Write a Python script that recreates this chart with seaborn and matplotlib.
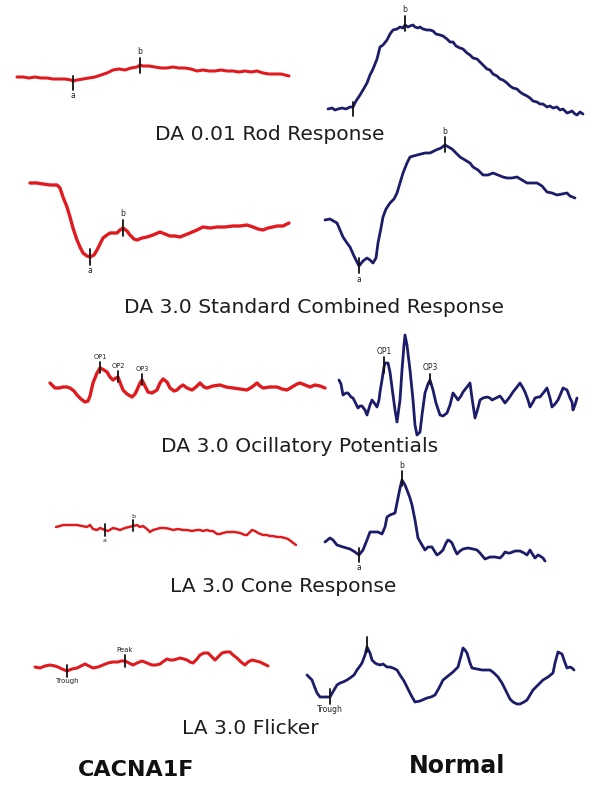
import numpy as np
import pandas as pd
import matplotlib
matplotlib.use("Agg")
import matplotlib.pyplot as plt
import seaborn as sns

# ERG traces: time (arbitrary, ~1 unit per px) and amplitude (arbitrary, up = positive)
# CACNA1F patient (red) and normal control (blue)

rod_cacna_t = [0, 6, 12, 18, 24, 30, 36, 42, 48, 54, 56, 60, 66, 72, 78, 84, 90, 96, 102, 108,
               114, 120, 123, 126, 132, 138, 144, 150, 156, 162, 168, 174, 180, 186, 192, 198, 204, 210, 216, 222,
               228, 234, 240, 246, 252, 258, 264, 268, 272]
rod_cacna_amp = [0, 0, -1, 0, -1, -1, -2, -2, -2, -3, -4, -3, -2, -1, 0, 2, 4, 7, 8, 7,
                 9, 10, 12, 11, 11, 10, 9, 9, 10, 9, 9, 8, 6, 7, 6, 6, 7, 6, 6, 5,
                 6, 5, 6, 4, 3, 3, 3, 2, 1]

rod_normal_t = [0, 4, 7, 10, 14, 18, 22, 25, 28, 32, 35, 39, 42, 45, 49, 52, 55, 59, 62, 65,
                69, 72, 75, 77, 80, 82, 85, 87, 90, 92, 95, 99, 102, 105, 108, 112, 115, 119, 122, 125,
                128, 132, 135, 139, 142, 145, 149, 152, 155, 159, 162, 165, 169, 172, 175, 179, 182, 185, 189, 192,
                195, 199, 202, 205, 209, 212, 215, 219, 222, 225, 229, 232, 235, 239, 242, 244, 247, 249, 252, 255]
rod_normal_amp = [0, 1, -1, 0, 1, 0, 2, 2, 8, 14, 19, 26, 34, 40, 50, 62, 64, 69, 75, 79,
                  80, 82, 81, 84, 82, 83, 84, 82, 81, 82, 80, 79, 79, 78, 75, 74, 73, 70, 67, 67,
                  63, 61, 60, 56, 54, 51, 50, 47, 44, 40, 39, 35, 33, 30, 29, 26, 23, 21, 20, 17,
                  15, 13, 11, 8, 7, 5, 5, 2, 3, 1, 2, -1, 0, -4, -3, -2, -5, -6, -3, -5]

comb_cacna_t = [0, 7, 13, 20, 27, 30, 33, 37, 40, 43, 47, 50, 53, 57, 60, 64, 67, 70, 73, 77,
                80, 84, 87, 90, 93, 97, 100, 104, 107, 112, 117, 123, 130, 135, 140, 145, 150, 155, 160, 167,
                173, 180, 187, 195, 203, 210, 217, 223, 228, 233, 238, 243, 247, 253, 259]
comb_cacna_amp = [0, 0, -1, -2, -2, -5, -14, -24, -34, -45, -57, -64, -70, -73, -74, -72, -67, -61, -55, -52,
                  -50, -50, -50, -47, -45, -48, -52, -56, -57, -55, -54, -52, -49, -51, -53, -53, -54, -52, -50, -47,
                  -44, -45, -44, -44, -43, -43, -42, -44, -46, -47, -45, -44, -43, -43, -40]

comb_normal_t = [0, 5, 12, 18, 22, 25, 29, 34, 38, 42, 45, 48, 51, 53, 56, 58, 61, 65, 69, 72,
                 75, 78, 82, 85, 92, 100, 105, 111, 116, 120, 127, 131, 135, 140, 145, 148, 153, 158, 163, 168,
                 173, 178, 182, 187, 192, 197, 202, 207, 212, 217, 222, 227, 232, 237, 242, 245, 250]
comb_normal_amp = [0, 1, -3, -17, -23, -27, -36, -46, -41, -38, -40, -43, -38, -23, -8, 3, 11, 17, 21, 27,
                   37, 47, 57, 63, 65, 67, 67, 70, 72, 75, 71, 67, 63, 60, 57, 53, 50, 45, 45, 47,
                   45, 43, 42, 42, 43, 40, 37, 37, 37, 34, 28, 27, 25, 26, 27, 24, 22]

ops_cacna_t = [0, 3, 5, 9, 13, 17, 20, 24, 27, 31, 35, 38, 40, 43, 47, 50, 54, 57, 60, 63,
               66, 68, 71, 73, 77, 82, 85, 87, 90, 92, 95, 98, 102, 107, 110, 113, 117, 120, 124, 127,
               130, 133, 137, 142, 146, 150, 154, 157, 163, 170, 176, 183, 190, 197, 202, 207, 210, 213, 220, 227,
               232, 237, 242, 247, 250, 255, 260, 265, 270, 275]
ops_cacna_amp = [0, -3, -5, -5, -4, -4, -5, -8, -12, -16, -19, -18, -13, 0, 10, 15, 13, 11, 6, 3,
                 5, 6, -2, -7, -11, -14, -11, -7, 0, 3, -3, -9, -10, -7, 0, 4, 1, -5, -8, -7,
                 -4, -2, -5, -7, -4, 0, -4, -5, -3, -2, -4, -5, -6, -7, -4, 0, -3, -5, -4, -4,
                 -6, -7, -4, -1, 0, -2, -4, -2, -3, -5]

ops_normal_t = [0, 2, 4, 7, 9, 12, 14, 17, 19, 21, 23, 26, 28, 31, 33, 36, 38, 40, 41, 43,
                45, 46, 49, 51, 54, 56, 58, 61, 63, 65, 66, 68, 71, 74, 76, 78, 81, 83, 86, 89,
                91, 94, 97, 101, 104, 108, 111, 114, 117, 119, 122, 124, 128, 131, 133, 136, 139, 141, 144, 148,
                151, 153, 157, 161, 164, 166, 170, 174, 178, 181, 184, 186, 189, 191, 194, 196, 199, 201, 205, 208,
                211, 213, 216, 219, 222, 224, 228, 231, 233, 234, 236, 238]
ops_normal_amp = [0, -4, -15, -13, -13, -17, -18, -24, -28, -26, -26, -30, -35, -25, -20, -24, -27, -20, -12, 0,
                  13, 17, 17, 8, -15, -30, -42, -20, 10, 35, 45, 35, 10, -20, -45, -55, -52, -35, -13, -4,
                  0, -10, -23, -35, -36, -33, -25, -13, -17, -20, -16, -12, -7, -3, -18, -38, -28, -20, -18, -17,
                  -18, -20, -18, -16, -20, -23, -18, -12, -7, -3, -8, -12, -20, -27, -22, -18, -17, -17, -12, -8,
                  -18, -27, -24, -20, -13, -8, -10, -18, -22, -30, -25, -18]

cone_cacna_t = [0, 4, 7, 14, 21, 26, 31, 34, 37, 41, 44, 49, 52, 57, 61, 64, 69, 73, 77, 81,
                84, 87, 91, 94, 97, 101, 104, 109, 114, 117, 122, 127, 131, 136, 141, 144, 147, 151, 154, 157,
                161, 164, 167, 171, 174, 179, 184, 189, 191, 194, 196, 199, 202, 207, 211, 214, 217, 221, 225, 229,
                232, 236, 240]
cone_cacna_amp = [0, 1, 2, 2, 2, 1, 0, 2, -2, -3, -1, -3, -4, -1, -2, -3, -1, 0, 1, 2,
                  0, 1, -2, -5, -3, -2, -1, -1, -2, -3, -2, -3, -3, -4, -3, -3, -4, -3, -4, -4,
                  -7, -7, -6, -5, -5, -5, -6, -8, -8, -5, -3, -4, -6, -8, -8, -9, -9, -10, -10, -11,
                  -12, -15, -18]

cone_normal_t = [0, 5, 8, 12, 18, 25, 30, 34, 38, 42, 45, 50, 53, 57, 60, 62, 65, 70, 73, 75,
                 77, 80, 82, 85, 87, 90, 93, 97, 100, 103, 107, 110, 112, 115, 118, 121, 123, 125, 127, 130,
                 132, 135, 138, 143, 148, 152, 155, 160, 165, 170, 175, 178, 180, 183, 185, 190, 195, 199, 202, 205,
                 208, 210, 213, 215, 218, 220]
cone_normal_amp = [0, 4, 2, -3, -5, -7, -10, -13, -8, 2, 10, 10, 10, 8, 15, 25, 27, 29, 44, 54,
                   62, 57, 52, 44, 37, 22, 4, -3, -8, -5, -5, -10, -13, -11, -8, -1, 2, 1, -1, -8,
                   -12, -9, -7, -6, -7, -8, -11, -17, -15, -15, -16, -13, -10, -11, -11, -9, -9, -11, -13, -8,
                   -13, -16, -13, -14, -16, -19]

flick_cacna_t = [0, 5, 10, 15, 20, 23, 27, 32, 37, 42, 46, 50, 54, 58, 63, 68, 73, 78, 83, 86,
                 90, 94, 98, 102, 107, 112, 117, 121, 125, 129, 132, 135, 138, 142, 145, 149, 152, 155, 158, 162,
                 165, 169, 173, 176, 180, 183, 187, 191, 195, 198, 202, 206, 210, 213, 217, 221, 225, 229, 233]
flick_cacna_amp = [0, -1, 1, 2, 1, 0, -2, -4, -2, -1, 1, 3, 1, -1, 0, 2, 4, 5, 5, 6,
                   6, 4, 2, 4, 6, 4, 2, 2, 3, 6, 8, 7, 7, 8, 9, 8, 7, 5, 4, 8,
                   12, 14, 14, 11, 7, 10, 14, 15, 15, 12, 9, 5, 2, 5, 7, 6, 5, 3, 1]

flick_normal_t = [0, 5, 8, 10, 13, 17, 21, 23, 27, 30, 33, 36, 40, 43, 47, 50, 53, 55, 58, 60,
                  62, 63, 65, 68, 70, 73, 76, 80, 83, 86, 90, 93, 97, 100, 104, 108, 113, 120, 124, 128,
                  132, 136, 141, 146, 151, 154, 156, 158, 160, 163, 165, 170, 175, 179, 183, 187, 191, 195, 200, 203,
                  206, 210, 213, 217, 220, 223, 226, 231, 236, 241, 246, 248, 251, 253, 255, 257, 260, 263, 265, 267]
flick_normal_amp = [0, -5, -13, -18, -22, -22, -22, -22, -15, -10, -8, -7, -5, -3, 0, 5, 9, 12, 20, 28,
                    24, 22, 15, 12, 11, 10, 11, 8, 8, 7, 5, 0, -6, -12, -20, -27, -26, -23, -22, -20,
                    -13, -5, -1, 3, 8, 19, 27, 25, 22, 12, 7, 6, 5, 5, 5, 2, -2, -8, -18, -24,
                    -27, -29, -29, -27, -25, -20, -15, -10, -5, -2, 2, 12, 23, 22, 21, 15, 7, 8, 7, 5]

protocols = ["DA 0.01 Rod Response", "DA 3.0 Standard Combined Response",
             "DA 3.0 Ocillatory Potentials", "LA 3.0 Cone Response", "LA 3.0 Flicker"]
groups = ["CACNA1F", "Normal"]

RED = "#e01b1f"
NAVY = "#1c1c6b"

W, H = 601, 786
fig = plt.figure(figsize=(W / 100, H / 100), dpi=100)
sns.set_style("white")
plt.rcParams["font.family"] = ["DejaVu Sans"]


def trace(t, amp, origin, color, lw):
    # full-figure axes, 1 data unit = 1 px, zero placed at the trace's start point
    x0, y0 = origin
    ax = fig.add_axes([0, 0, 1, 1])
    ax.patch.set_alpha(0)
    df = pd.DataFrame({"t": t, "amp": amp})
    sns.lineplot(data=df, x="t", y="amp", ax=ax, color=color, linewidth=lw,
                 estimator=None, sort=False)
    ax.set_xlim(-x0, W - x0)
    ax.set_ylim(y0 - H, y0)
    ax.set_axis_off()
    return ax, t, amp


def mark(tr, at, text=None, side="up", fs=5.5, up=7, down=7, gap=6):
    ax, t, amp = tr
    y = np.interp(at, t, amp)
    ax.plot([at, at], [y - down, y + up], color="#111111", lw=1.3)
    if text:
        ty = y + up + gap if side == "up" else y - down - gap
        ax.text(at, ty, text, ha="center", va="center", fontsize=fs, color="#222222")


# row 1 - rod
r = trace(rod_cacna_t, rod_cacna_amp, (17, 77), RED, 2.2)
mark(r, 56, "a", "down", fs=5.5, up=5, down=9)
mark(r, 123, "b", "up", fs=5.5, up=7, down=8)
r = trace(rod_normal_t, rod_normal_amp, (328, 109), NAVY, 2.0)
mark(r, 25, None, up=5, down=9)
mark(r, 77, "b", "up", fs=5.5, up=9, down=6)

# row 2 - standard combined
r = trace(comb_cacna_t, comb_cacna_amp, (30, 183), RED, 2.4)
mark(r, 60, "a", "down", fs=5.5, up=8, down=8)
mark(r, 93, "b", "up", fs=5.5, up=8, down=8)
r = trace(comb_normal_t, comb_normal_amp, (325, 220), NAVY, 2.0)
mark(r, 34, "a", "down", fs=5.5, up=8, down=7)
mark(r, 120, "b", "up", fs=5.5, up=8, down=7)

# row 3 - oscillatory potentials
r = trace(ops_cacna_t, ops_cacna_amp, (50, 383), RED, 2.4)
mark(r, 50, "OP1", "up", fs=4.8, up=6, down=5, gap=5)
mark(r, 68, "OP2", "up", fs=4.8, up=6, down=5, gap=5)
mark(r, 92, "OP3", "up", fs=4.8, up=6, down=5, gap=5)
r = trace(ops_normal_t, ops_normal_amp, (339, 380), NAVY, 2.0)
mark(r, 45, "OP1", "up", fs=5.5, up=10, down=6, gap=6)
mark(r, 91, "OP3", "up", fs=5.5, up=6, down=4, gap=6)

# row 4 - cone
r = trace(cone_cacna_t, cone_cacna_amp, (56, 527), RED, 1.8)
mark(r, 49, "a", "down", fs=4.5, up=6, down=6, gap=4)
mark(r, 77, "b", "up", fs=4.5, up=6, down=5, gap=4)
r = trace(cone_normal_t, cone_normal_amp, (325, 542), NAVY, 2.0)
mark(r, 34, "a", "down", fs=5.5, up=7, down=7, gap=6)
mark(r, 77, "b", "up", fs=5.5, up=9, down=6, gap=5)

# row 5 - flicker
r = trace(flick_cacna_t, flick_cacna_amp, (35, 667), RED, 2.2)
mark(r, 32, "Trough", "down", fs=5, up=6, down=6, gap=4)
mark(r, 90, "Peak", "up", fs=5, up=6, down=6, gap=5)
r = trace(flick_normal_t, flick_normal_amp, (307, 675), NAVY, 2.0)
mark(r, 23, "Trough", "down", fs=5.5, up=8, down=7, gap=5)
mark(r, 60, None, up=10, down=5)

# protocol captions and group labels (pixel positions of the layout)
caption_xy = [(270, 135), (314, 307), (300, 447), (283, 587), (250, 728)]
for txt, (cx, cy) in zip(protocols, caption_xy):
    fig.text(cx / W, 1 - cy / H, txt, ha="center", va="center", fontsize=14.6, color="#1e1e1e")

fig.text(136 / W, 1 - 770 / H, groups[0], ha="center", va="center", fontsize=16,
         fontweight="bold", color="#111111")
fig.text(457 / W, 1 - 766 / H, groups[1], ha="center", va="center", fontsize=17,
         fontweight="bold", color="#111111")

fig.savefig("out.png", dpi=100, facecolor="white")
